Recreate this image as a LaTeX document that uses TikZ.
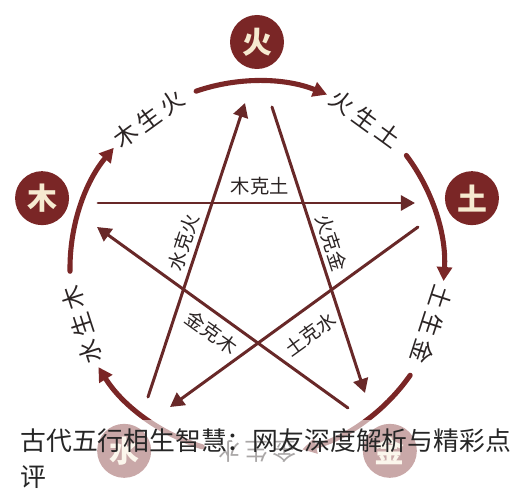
\documentclass[tikz,border=0pt]{standalone}
\usepackage{fontspec}
\usepackage{tikz}
\usetikzlibrary{arrows.meta}
\newfontfamily\cjk{Noto Sans CJK SC}
\newcommand{\lsp}{\hspace{2.5pt}}
\definecolor{wuxred}{HTML}{7A2626}
\definecolor{keline}{HTML}{682828}
\definecolor{cream}{HTML}{F6EAD0}
\definecolor{labelgray}{HTML}{2B2424}

\begin{document}
\begin{tikzpicture}[x=0.02cm,y=0.02cm,line cap=round,line join=round,>={Triangle[length=8pt,width=8.5pt]},
    element/.style={circle,fill=wuxred,minimum size=1.08cm,inner sep=0pt,text=cream,font=\cjk\bfseries\fontsize{17}{17}\selectfont},
    sheng/.style={->,line width=2.9pt,draw=wuxred},
    ke/.style={->,line width=1.7pt,draw=keline},
    shenglabel/.style={inner sep=0pt,text=labelgray,font=\cjk\fontsize{13.5}{13.5}\selectfont},
    kelabel/.style={inner sep=1pt,text=labelgray,font=\cjk\fontsize{11}{11}\selectfont},
    caption/.style={inner sep=0pt,text=black!85,font=\cjk\fontsize{14.7}{14.7}\selectfont}]
\useasboundingbox (0,0) rectangle (513,500);
\coordinate (c) at (257,232);

\foreach \a/\n/\t in {90/huo/火,18/tu/土,-54/jin/金,-126/shui/水,162/mu/木}
  \node[element] (\n) at ([shift={(\a:226)}]c) {\t};

\foreach \a in {90,18,-54,-126,162}
  \draw[sheng] ([shift={({\a+19}:187)}]c) arc[start angle=\a+19,end angle=\a-22,radius=187];

\foreach \a/\t in {162/木\lsp{}生\lsp{}火,90/火\lsp{}生\lsp{}土,18/土\lsp{}生\lsp{}金,-54/金\lsp{}生\lsp{}水,-126/水\lsp{}生\lsp{}木}
  \node[shenglabel,rotate=\a-126] at ([shift={({\a-36}:184)}]c) {\t};

\coordinate (mu-out) at (98,297);   \coordinate (tu-in) at (415,297);
\coordinate (tu-out) at (418,273);  \coordinate (shui-in) at (170,93);
\coordinate (shui-out) at (148,103); \coordinate (huo-in) at (245,397);
\coordinate (huo-out) at (272,393); \coordinate (jin-in) at (365,107);
\coordinate (jin-out) at (348,92);  \coordinate (mu-in) at (97,273);

\draw[ke] (mu-out) -- node[kelabel,pos=.51,above=2.5pt] {木克土} (tu-in);
\draw[ke] (shui-out) -- node[kelabel,pos=.51,sloped,above=1.5pt] {水克火} (huo-in);
\draw[ke] (huo-out) -- node[kelabel,pos=.49,sloped,above=1.5pt] {火克金} (jin-in);
\draw[ke] (tu-out) -- node[kelabel,pos=.49,sloped,below=6.5pt] {土克水} (shui-in);
\draw[ke] (jin-out) -- node[kelabel,pos=.50,sloped,below=3.5pt] {金克木} (mu-in);

\fill[white,opacity=.6] (0,0) rectangle (513,80);
\node[caption,anchor=base west] (cap1) at (20,50) {古代五行相生智慧：网友深度解析与精彩点};
\node[caption,anchor=base west] (cap2) at ([yshift=-0.74cm]cap1.base west) {评};
\end{tikzpicture}
\end{document}
